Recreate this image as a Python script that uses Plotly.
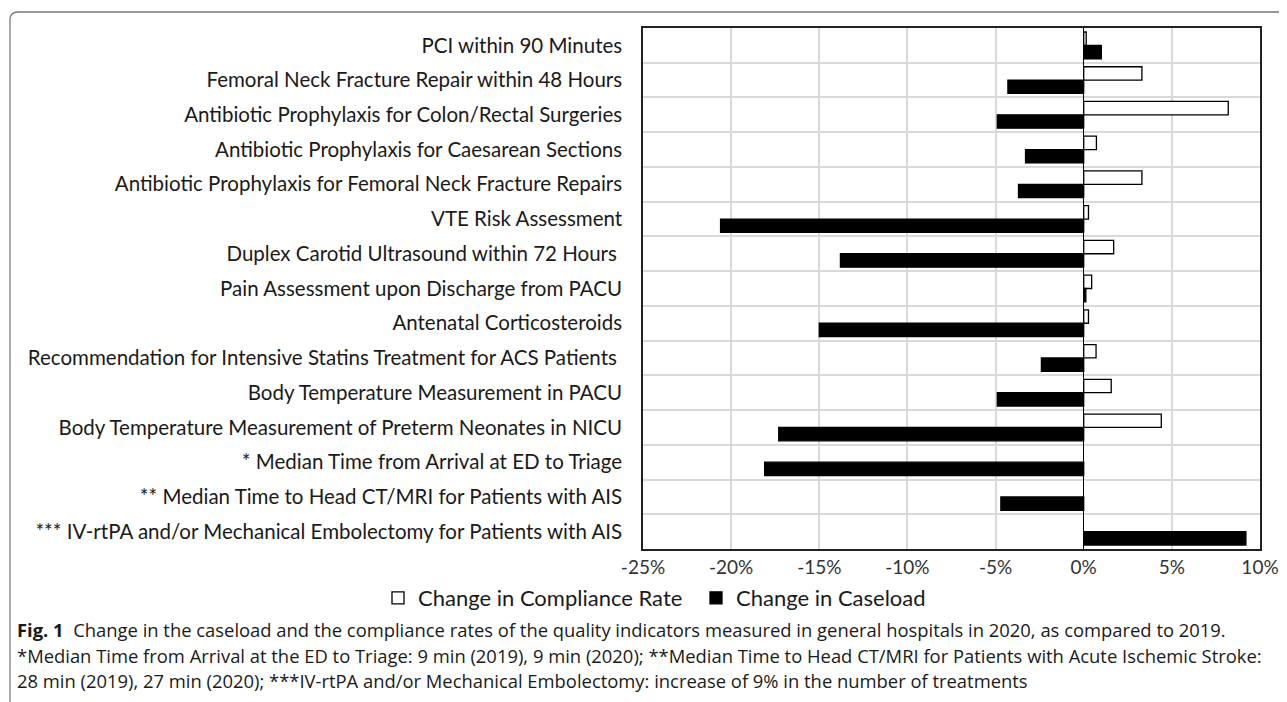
import plotly.graph_objects as go

categories = [
    "PCI within 90 Minutes",
    "Femoral Neck Fracture Repair within 48 Hours",
    "Antibiotic Prophylaxis for Colon/Rectal Surgeries",
    "Antibiotic Prophylaxis for Caesarean Sections",
    "Antibiotic Prophylaxis for Femoral Neck Fracture Repairs",
    "VTE Risk Assessment",
    "Duplex Carotid Ultrasound within 72 Hours\u00a0",
    "Pain Assessment upon Discharge from PACU",
    "Antenatal Corticosteroids",
    "Recommendation for Intensive Statins Treatment for ACS Patients\u00a0",
    "Body Temperature Measurement in PACU",
    "Body Temperature Measurement of Preterm Neonates in NICU",
    "* Median Time from Arrival at ED to Triage",
    "** Median Time to Head CT/MRI for Patients with AIS",
    "*** IV-rtPA and/or Mechanical Embolectomy for Patients with AIS",
]
compliance_change = [0.14, 3.3, 8.2, 0.72, 3.3, 0.27, 1.7, 0.45, 0.27, 0.7, 1.56, 4.4, None, None, None]
caseload_change = [1.0, -4.3, -4.9, -3.3, -3.7, -20.6, -13.8, 0.12, -15.0, -2.4, -4.9, -17.3, -18.1, -4.7, 9.2]

x_tickvals = [-25, -20, -15, -10, -5, 0, 5, 10]
x_ticktext = ["-25%", "-20%", "-15%", "-10%", "-5%", "0%", "5%", "10%"]

caption_lines = [
    "<b>Fig. 1</b>  Change in the caseload and the compliance rates of the quality indicators measured in general hospitals in 2020, as compared to 2019.",
    "*Median Time from Arrival at the ED to Triage: 9 min (2019), 9 min (2020); **Median Time to Head CT/MRI for Patients with Acute Ischemic Stroke:",
    "28 min (2019), 27 min (2020); ***IV-rtPA and/or Mechanical Embolectomy: increase of 9% in the number of treatments",
]

OFF = 8  # page body margin
W, H = 1279, 694
# plot area in page coordinates: x 643..1260, y 28..549
L = 643 - OFF
T = 28 - OFF
R = W - (1260 - OFF)
B = H - (549 - OFF)
PW, PH = W - L - R, H - T - B


def px(xp):
    return (xp - OFF - L) / PW


def py(yp):
    return (H - B - (yp - OFF)) / PH


fig = go.Figure()
fig.add_trace(go.Bar(
    y=categories, x=compliance_change, orientation="h",
    name="Change in Compliance Rate", legend="legend",
    marker=dict(color="white", line=dict(color="black", width=1.3)),
))
fig.add_trace(go.Bar(
    y=categories, x=caseload_change, orientation="h",
    name="Change in Caseload", legend="legend2",
    marker=dict(color="black", line=dict(color="black", width=1.3)),
))

label_font = "Lato, Carlito, Calibri, 'Open Sans', sans-serif"
legend_common = dict(
    orientation="h", yanchor="middle", y=py(598), xanchor="left",
    font=dict(size=22, color="#1a1a1a"), itemwidth=30,
    bgcolor="rgba(0,0,0,0)",
)

fig.update_layout(
    width=W, height=H,
    margin=dict(l=L, r=R, t=T, b=B, pad=0, autoexpand=False),
    paper_bgcolor="white", plot_bgcolor="white",
    barmode="group", bargap=0.23, bargroupgap=0.0,
    font=dict(family=label_font, size=20, color="#1a1a1a"),
    showlegend=True,
    legend=dict(x=px(378), **legend_common),
    legend2=dict(x=px(696), **legend_common),
)

fig.update_xaxes(
    range=[-25, 10], tickvals=x_tickvals, ticktext=x_ticktext, automargin=False,
    showgrid=True, gridcolor="#d9d9d9", gridwidth=1.5,
    zeroline=True, zerolinecolor="black", zerolinewidth=1.2,
    showline=True, linecolor="#222", linewidth=1.5, mirror=True,
    ticks="", tickfont=dict(size=19, color="#333"),
)
fig.update_yaxes(
    autorange="reversed", tickson="boundaries", automargin=False,
    showgrid=True, gridcolor="#d9d9d9", gridwidth=1.5,
    showline=True, linecolor="#222", linewidth=1.5, mirror=True,
    ticks="", ticklabelstandoff=15, tickfont=dict(size=20.5, color="#1a1a1a"),
)

caption_y = [629, 655, 680]
for line, yy in zip(caption_lines, caption_y):
    fig.add_annotation(
        text=line, xref="paper", yref="paper", x=px(15), y=py(yy),
        xanchor="left", yanchor="middle", showarrow=False,
        font=dict(family="'Open Sans', sans-serif", size=18.4, color="#1a1a1a"),
    )

# outer rounded frame (partially out of view)
x0, y0, x1, y1, rr = px(10), py(12), px(1300), py(720), 8
rx, ry = rr / PW, rr / PH
path = (f"M {x1},{y0} L {x0 + rx},{y0} Q {x0},{y0} {x0},{y0 - ry} L {x0},{y1}")
fig.add_shape(type="path", path=path, xref="paper", yref="paper",
              line=dict(color="#7a7a7a", width=1.3), layer="above")

fig.write_html("out.html")
